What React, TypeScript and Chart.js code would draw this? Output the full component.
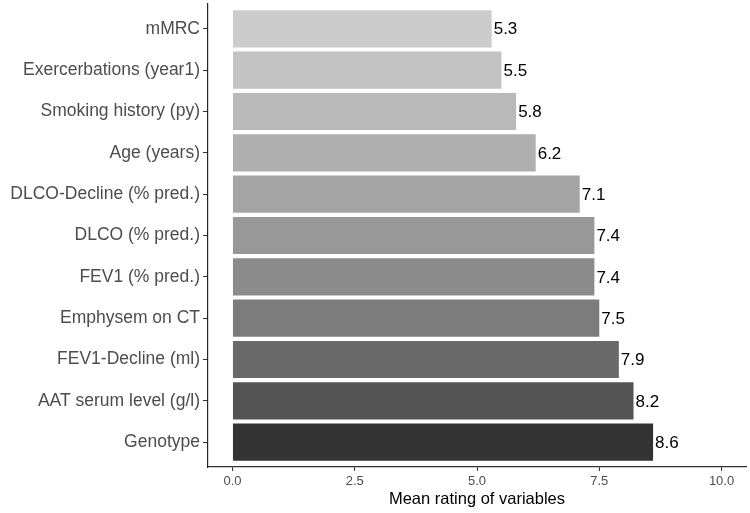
import React, { useEffect, useRef } from "react";
import { Chart, registerables } from "chart.js";

Chart.register(...registerables);

const categories = [
  "mMRC",
  "Exercerbations (year1)",
  "Smoking history (py)",
  "Age (years)",
  "DLCO-Decline (% pred.)",
  "DLCO (% pred.)",
  "FEV1 (% pred.)",
  "Emphysem on CT",
  "FEV1-Decline (ml)",
  "AAT serum level (g/l)",
  "Genotype",
];
const values = [5.3, 5.5, 5.8, 6.2, 7.1, 7.4, 7.4, 7.5, 7.9, 8.2, 8.6];
const xTicks = [0, 2.5, 5, 7.5, 10];
const barColors = [
  "#cccccc", "#c3c3c3", "#b9b9b9", "#afafaf", "#a4a4a4", "#989898",
  "#8b8b8b", "#7c7c7c", "#6a6a6a", "#545454", "#333333",
];

const FONT = "'Liberation Sans', Arial, sans-serif";

const valueLabels = {
  id: "valueLabels",
  afterDatasetsDraw(chart: any) {
    const ctx = chart.ctx;
    const meta = chart.getDatasetMeta(0);
    ctx.save();
    ctx.font = `17px ${FONT}`;
    ctx.fillStyle = "#000000";
    ctx.textAlign = "left";
    ctx.textBaseline = "middle";
    meta.data.forEach((el: any, i: number) => {
      ctx.fillText(values[i].toFixed(1), el.x + 2, el.y + 1);
    });
    ctx.restore();
  },
};

export default function App() {
  const ref = useRef<HTMLCanvasElement>(null);
  useEffect(() => {
    if (!ref.current) return;
    const chart = new Chart(ref.current, {
      type: "bar",
      data: {
        datasets: [
          {
            data: values.map((v, i) => ({ x: v, y: i })) as any,
            backgroundColor: barColors,
            borderWidth: 0,
            categoryPercentage: 1,
            barPercentage: 0.9,
          },
        ],
      },
      options: {
        indexAxis: "y",
        responsive: false,
        animation: false,
        layout: { padding: { top: 4, right: 4, left: 0, bottom: 0 } },
        plugins: {
          legend: { display: false },
          tooltip: { enabled: false },
        },
        scales: {
          x: {
            type: "linear",
            min: -0.5,
            max: 10.5,
            offset: false,
            afterBuildTicks: (s: any) => {
              s.ticks = xTicks.map((v) => ({ value: v }));
            },
            afterFit: (s: any) => {
              s.height = 46;
              s.paddingLeft = 0;
              s.paddingRight = 0;
            },
            grid: {
              offset: false,
              drawOnChartArea: false,
              drawTicks: true,
              tickLength: 4,
              color: "#333333",
            },
            border: { display: true, color: "#333333", width: 1.2 },
            ticks: {
              padding: 3,
              color: "#4d4d4d",
              font: { family: FONT, size: 13 },
              callback: (v: any) => Number(v).toFixed(1),
            },
            title: {
              display: true,
              text: "Mean rating of variables",
              color: "#000000",
              font: { family: FONT, size: 16.5 },
              padding: { top: 0, bottom: 4 },
            },
          },
          y: {
            type: "linear",
            reverse: true,
            min: -0.6,
            max: 10.6,
            offset: false,
            afterBuildTicks: (s: any) => {
              s.ticks = categories.map((_, i) => ({ value: i }));
            },
            afterFit: (s: any) => {
              s.width = 208;
              s.paddingTop = 0;
              s.paddingBottom = 0;
            },
            grid: {
              offset: false,
              drawOnChartArea: false,
              drawTicks: true,
              tickLength: 5,
              color: "#333333",
            },
            border: { display: true, color: "#222222", width: 1.2 },
            ticks: {
              autoSkip: false,
              padding: 3,
              color: "#4d4d4d",
              font: { family: FONT, size: 17.5 },
              callback: (v: any) => categories[Number(v)] ?? "",
            },
          },
        },
      },
      plugins: [valueLabels],
    });
    return () => chart.destroy();
  }, []);
  return (
    <div style={{ position: "fixed", left: 0, top: 0, width: 750, height: 513, background: "#fff" }}>
      <canvas ref={ref} width={750} height={513} />
    </div>
  );
}
